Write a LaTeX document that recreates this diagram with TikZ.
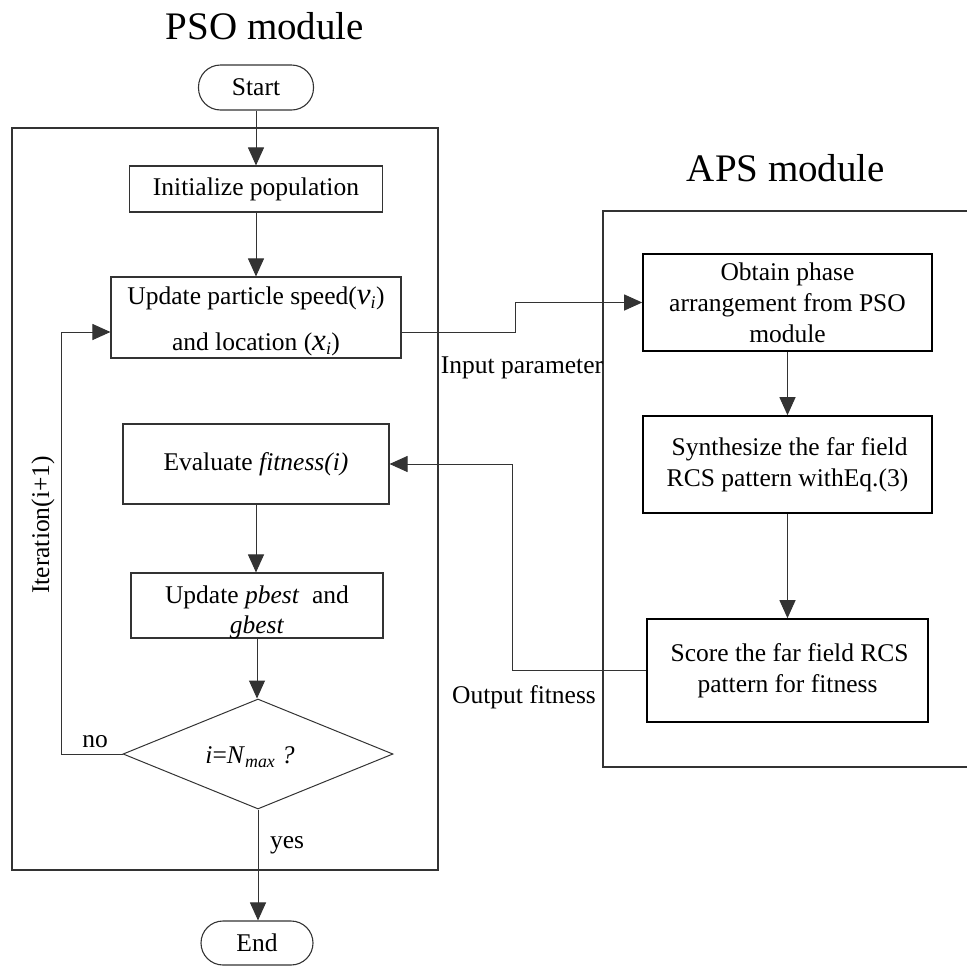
\documentclass[tikz,border=0pt]{standalone}
\usepackage{fontspec}
\setmainfont{Liberation Serif}
\usetikzlibrary{arrows.meta,shapes.geometric}
\newcommand\fsz[2]{\fontsize{#1}{#2}\selectfont}
\newcommand\mvar[1]{{\fsz{31}{31}\itshape #1}\textsubscript{\itshape i}}
\tikzset{
  ln/.style={line width=1pt, draw=black!80},
  arr/.style={ln, -{Triangle[length=18pt,width=16pt]}},
  box/.style={draw=black!80, line width=1.1pt, align=center, inner sep=0pt, font=\fsz{25.5}{31}},
  apsbox/.style={box, draw=black, line width=1.6pt},
  term/.style={box, rounded corners=22pt},
  lbl/.style={inner sep=0pt, font=\fsz{25.5}{31}},
  ttl/.style={inner sep=0pt, font=\fsz{39}{44}}
}
\begin{document}
\begin{tikzpicture}[x=1pt,y=-1pt]
\useasboundingbox (0,0) rectangle (967,967);
% module frames
\draw[ln, line width=1.1pt] (12,128) rectangle (438,870);
\draw[ln, line width=1.1pt] (967,211) -- (603,211) -- (603,767) -- (967,767);
% titles
\node[ttl] (tpso) at (265,26) {PSO module};
\node[ttl] (taps) at (786,168) {APS module};
% PSO column
\node[term, minimum width=115pt, minimum height=45pt] (start) at (256,87.5) {Start};
\node[box, minimum width=253pt, minimum height=46pt] (init) at (256,189) {Initialize population};
\node[box, minimum width=290pt, minimum height=81pt,
  label={[lbl, align=center, yshift=-4pt]center:{Update particle speed(\mvar{v})\\[15pt]and location (\mvar{x})}}] (upd) at (256,317.5) {};
\node[box, minimum width=266pt, minimum height=80pt] (eval) at (256,464) {Evaluate \textit{fitness(i)}};
\node[box, minimum width=252pt, minimum height=65pt,
  label={[lbl, align=center, yshift=-7pt]center:{Update \textit{pbest} \ and\\[-1pt]\textit{gbest}}}] (pb) at (257,605.5) {};
\node[draw=black!80, line width=1pt, diamond, minimum width=270pt, minimum height=110pt, inner sep=0pt] (dec) at (258,754) {};
\node[lbl] (dect) at (250,757) {\textit{i}=\textit{N}\textsubscript{\textit{max}} \textit{?}};
\node[term, minimum width=112pt, minimum height=44pt] (end) at (257,943) {End};
% APS column
\node[apsbox, minimum width=289pt, minimum height=97pt] (obt) at (787.5,302.5) {Obtain phase\\arrangement from PSO\\module};
\node[apsbox, minimum width=289pt, minimum height=97pt] (syn) at (787.5,464.5) {\,Synthesize the far field\\RCS pattern withEq.(3)};
\node[apsbox, minimum width=281pt, minimum height=103pt] (sco) at (787.5,670.5) {\,Score the far field RCS\\pattern for fitness};
% labels
\node[lbl] (lin) at (522,368) {Input parameter};
\node[lbl] (lout) at (524,697) {Output fitness};
\node[lbl] (lno) at (95,742) {no};
\node[lbl] (lyes) at (287,845) {yes};
\node[lbl, rotate=90] (lit) at (43,525) {Iteration(i+1)};
% connectors
\draw[arr] (start.south) -- (start.south |- init.north);
\draw[arr] (init.south) -- (init.south |- upd.north);
\draw[arr] (eval.south) -- (eval.south |- pb.north);
\draw[arr] (pb.south) -- (pb.south |- dec.north);
\draw[arr] (dec.south) -- (dec.south |- end.north);
\draw[arr] (obt.south) -- (obt.south |- syn.north);
\draw[arr] (syn.south) -- (syn.south |- sco.north);
\coordinate (ip) at (515,332);
\draw[arr] (upd.east |- ip) -- (ip) |- (obt.west);
\coordinate (op) at (512,670.5);
\draw[arr] (sco.west) -- (op) |- (eval.east);
\coordinate (nl) at (61,754);
\draw[arr] (dec.west) -- (nl) |- (upd.west |- ip);
\end{tikzpicture}
\end{document}
